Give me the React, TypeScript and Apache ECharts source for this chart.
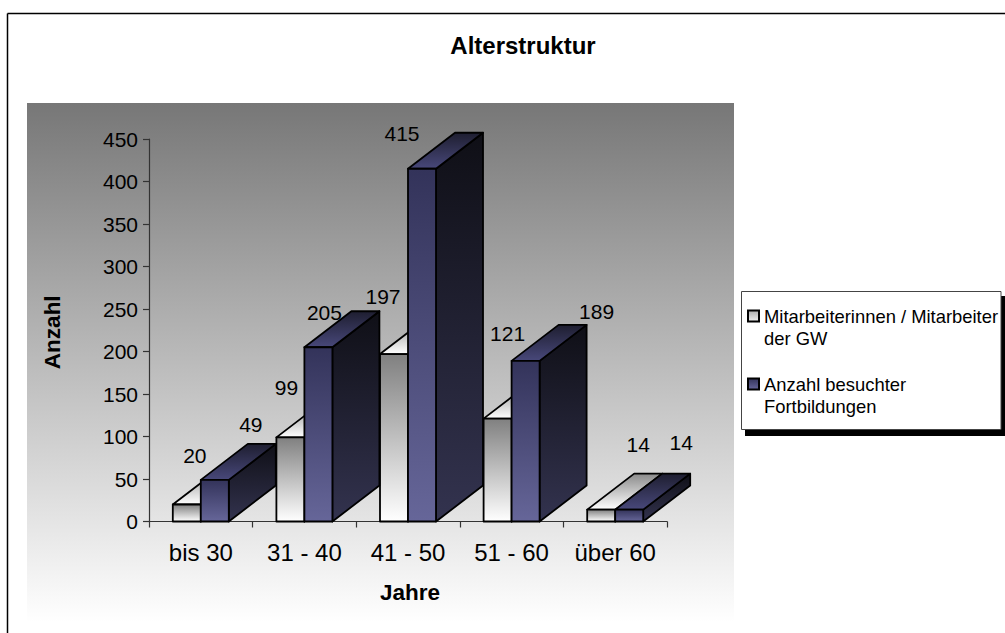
import React, { useEffect, useRef } from "react";
import * as echarts from "echarts";

const FONT = '"Liberation Sans", Arial, sans-serif';

const categories = ["bis 30", "31 - 40", "41 - 50", "51 - 60", "über 60"];
const staffCounts = [20, 99, 197, 121, 14];
const trainingCounts = [49, 205, 415, 189, 14];
const axisTicks = [0, 50, 100, 150, 200, 250, 300, 350, 400, 450];

// Hand-placed value labels, relative to each bar's top front centre.
const staffLabelOffsets = [[8, -49], [-4, -50], [-11, -58], [10, -85], [37, -65]];
const trainingLabelOffsets = [[36, -55], [6, -35], [-20, -35], [71, -49], [52, -67]];

const BAR_WIDTH = 28;
const DEPTH_X = 47;
const DEPTH_Y = 36;

const vertical = (top: string, bottom: string) => ({
  type: "linear", x: 0, y: 0, x2: 0, y2: 1,
  colorStops: [{ offset: 0, color: top }, { offset: 1, color: bottom }],
});

const staffFaces = {
  front: vertical("#808080", "#ffffff"),
  top: vertical("#8a8a8a", "#ffffff"),
  side: vertical("#555555", "#bbbbbb"),
};
const trainingFaces = {
  front: vertical("#33335a", "#666699"),
  top: vertical("#1e1e30", "#48487a"),
  side: vertical("#0f0f16", "#33334f"),
};

// Draws one pseudo-3D bar: front, top and side faces plus its value label.
function barRenderer(seriesSide: number, faces: any, offsets: number[][]) {
  return (params: any, api: any) => {
    const cat = api.value(0);
    const value = api.value(1);
    const [cx, y0] = api.coord([cat, 0]);
    const [, yTop] = api.coord([cat, value]);
    const left = cx + (seriesSide < 0 ? -BAR_WIDTH : 0);
    const right = left + BAR_WIDTH;
    const stroke = { stroke: "#000", lineWidth: 1.8, lineJoin: "round" };
    const off = offsets[params.dataIndex];
    return {
      type: "group",
      children: [
        {
          type: "polygon",
          shape: { points: [[right, y0], [right + DEPTH_X, y0 - DEPTH_Y], [right + DEPTH_X, yTop - DEPTH_Y], [right, yTop]] },
          style: { fill: faces.side, ...stroke },
        },
        {
          type: "polygon",
          shape: { points: [[left, yTop], [left + DEPTH_X, yTop - DEPTH_Y], [right + DEPTH_X, yTop - DEPTH_Y], [right, yTop]] },
          style: { fill: faces.top, ...stroke },
        },
        {
          type: "polygon",
          shape: { points: [[left, y0], [left, yTop], [right, yTop], [right, y0]] },
          style: { fill: faces.front, ...stroke },
        },
        {
          type: "text",
          x: (left + right) / 2 + off[0],
          y: yTop + off[1],
          style: {
            text: String(value),
            fill: "#000",
            font: `21px ${FONT}`,
            align: "center",
            verticalAlign: "middle",
          },
        },
      ],
    };
  };
}

export default function App() {
  const ref = useRef<HTMLDivElement>(null);

  useEffect(() => {
    const chart = echarts.init(ref.current!, undefined, { renderer: "svg" });
    chart.setOption({
      animation: false,
      backgroundColor: "#ffffff",
      textStyle: { fontFamily: FONT },
      title: {
        text: "Alterstruktur",
        left: 518,
        top: 28,
        textAlign: "center",
        textStyle: { fontFamily: FONT, fontSize: 24, fontWeight: "bold", color: "#000" },
      },
      graphic: [
        // Sheet edge along the top and left
        {
          type: "line",
          z: -10,
          silent: true,
          shape: { x1: 7.5, y1: 13.5, x2: 1005, y2: 13.5 },
          style: { stroke: "#000", lineWidth: 1.5 },
        },
        {
          type: "line",
          z: -10,
          silent: true,
          shape: { x1: 7.5, y1: 13.5, x2: 7.5, y2: 633 },
          style: { stroke: "#000", lineWidth: 1.5 },
        },
        // Plot background
        {
          type: "rect",
          z: -9,
          silent: true,
          shape: { x: 27, y: 103, width: 707, height: 519 },
          style: { fill: vertical("#777777", "#ffffff") },
        },
        // Legend box and its hard shadow
        {
          type: "rect",
          z: -8,
          silent: true,
          shape: { x: 745, y: 296, width: 260, height: 140 },
          style: { fill: "#000" },
        },
        {
          type: "rect",
          z: -7,
          silent: true,
          shape: { x: 741.5, y: 291.5, width: 259.5, height: 138 },
          style: { fill: "#fff", stroke: "#444", lineWidth: 1 },
        },
      ],
      grid: { left: 149, top: 139, width: 518, height: 382.5, containLabel: false },
      xAxis: {
        type: "category",
        data: categories,
        name: "Jahre",
        nameLocation: "middle",
        nameGap: 59,
        nameTextStyle: { fontFamily: FONT, fontSize: 22.5, fontWeight: "bold", color: "#000", padding: [0, 0, 0, 4] },
        axisLine: { show: true, lineStyle: { color: "#333", width: 1.2 } },
        axisTick: { show: true, length: 6, alignWithLabel: false, lineStyle: { color: "#333", width: 1.2 } },
        axisLabel: { color: "#000", fontFamily: FONT, fontSize: 24, margin: 19, interval: 0 },
      },
      yAxis: {
        type: "value",
        min: axisTicks[0],
        max: axisTicks[axisTicks.length - 1],
        interval: axisTicks[1] - axisTicks[0],
        name: "Anzahl",
        nameLocation: "middle",
        nameGap: 85,
        nameTextStyle: { fontFamily: FONT, fontSize: 22.5, fontWeight: "bold", color: "#000", padding: [0, 4, 0, 0] },
        splitLine: { show: false },
        axisLine: { show: true, lineStyle: { color: "#333", width: 1.2 } },
        axisTick: { show: true, length: 6, lineStyle: { color: "#333", width: 1.2 } },
        axisLabel: { color: "#000", fontFamily: FONT, fontSize: 21, margin: 11 },
      },
      legend: {
        orient: "vertical",
        left: 747,
        top: 283,
        width: 258,
        padding: 0,
        itemGap: 2,
        itemWidth: 11,
        itemHeight: 11,
        icon: "rect",
        selectedMode: false,
        align: "left",
        textStyle: { color: "#000", fontFamily: FONT, fontSize: 18.4, lineHeight: 22 },
        // A leading empty line keeps each marker level with its entry's first line.
        formatter: (name: string) =>
          "\n" +
          name
            .replace("Mitarbeiter der GW", "Mitarbeiter\nder GW")
            .replace("besuchter Fortbildungen", "besuchter\nFortbildungen"),
      },
      series: [
        {
          type: "custom",
          name: "Mitarbeiterinnen / Mitarbeiter der GW",
          renderItem: barRenderer(-1, staffFaces, staffLabelOffsets),
          data: categories.map((_, i) => [i, staffCounts[i]]),
          encode: { x: 0, y: 1 },
          itemStyle: { color: vertical("#aaaaaa", "#eeeeee"), borderColor: "#000", borderWidth: 1.5 },
        },
        {
          type: "custom",
          name: "Anzahl besuchter Fortbildungen",
          renderItem: barRenderer(1, trainingFaces, trainingLabelOffsets),
          data: categories.map((_, i) => [i, trainingCounts[i]]),
          encode: { x: 0, y: 1 },
          itemStyle: { color: vertical("#33335a", "#666699"), borderColor: "#000", borderWidth: 1.5 },
        },
      ],
    });
    return () => chart.dispose();
  }, []);

  return (
    <div
      ref={ref}
      style={{ position: "fixed", left: 0, top: 0, width: 1005, height: 633 }}
    />
  );
}
